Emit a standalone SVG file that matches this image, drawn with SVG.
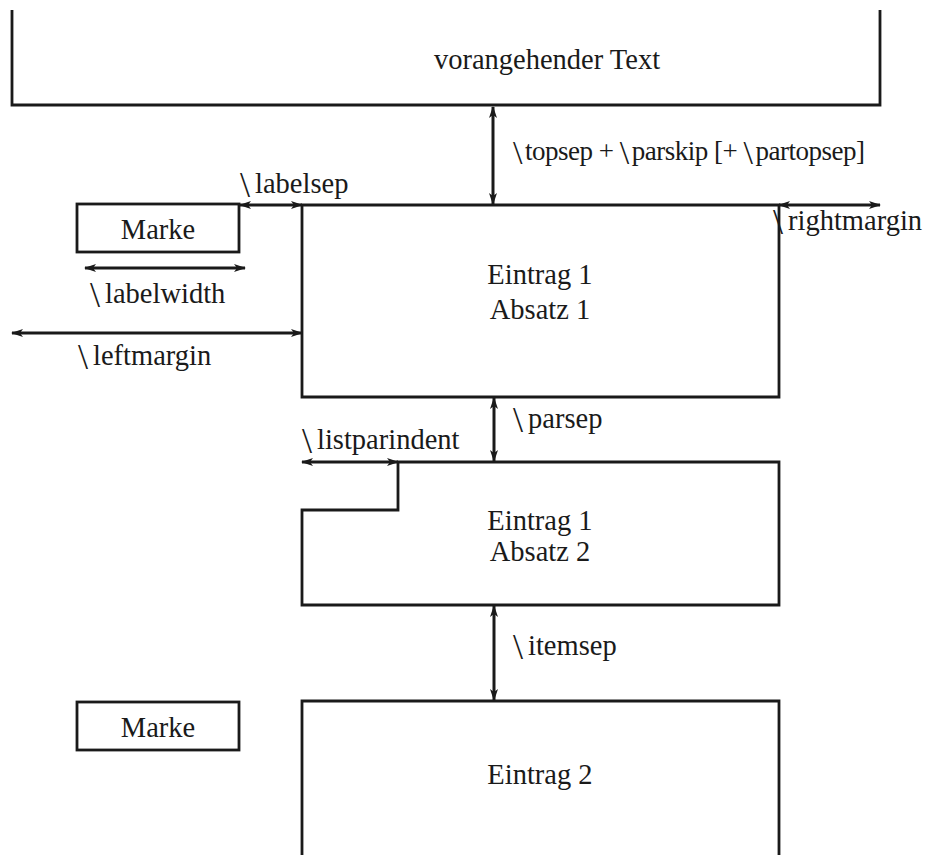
<svg xmlns="http://www.w3.org/2000/svg" width="927" height="858" viewBox="0 0 927 858">
<style>
.box{fill:none;stroke:#1a1a1a;stroke-width:2.8}
.arr{fill:none;stroke:#1a1a1a;stroke-width:3;marker-start:url(#ah);marker-end:url(#ah)}
text{font-family:"Liberation Serif","Times New Roman",serif;font-size:28.5px;fill:#1a1a1a}
.c{text-anchor:middle}
.bs{font-size:36px}
.sm{font-size:27px}
.sm .bs{font-size:34px}
</style>
<defs>
<marker id="ah" viewBox="0 0 12 8" refX="11" refY="4" markerWidth="12" markerHeight="8" markerUnits="userSpaceOnUse" orient="auto-start-reverse">
<path d="M0,0 L12,4 L0,8 L3,4 Z" fill="#1a1a1a"/>
</marker>
</defs>
<rect width="927" height="858" fill="#fff"/>
<g id="prev">
<path class="box" d="M12,10 V105 H880 V10"/>
<text class="c" x="547" y="69">vorangehender Text</text>
</g>
<g id="item1">
<path class="box" d="M302,205 H779 V397 H302 Z"/>
<text class="c" x="540" y="284">Eintrag 1</text>
<text class="c" x="540" y="319">Absatz 1</text>
</g>
<g id="label1">
<rect class="box" x="77" y="204" width="162" height="48"/>
<text class="c" x="158" y="239">Marke</text>
</g>
<g id="item1b">
<path class="box" d="M398,462 H779 V605 H302 V510 H398 Z"/>
<text class="c" x="540" y="530">Eintrag 1</text>
<text class="c" x="540" y="561">Absatz 2</text>
</g>
<g id="item2">
<path class="box" d="M302,855 V701 H779 V855"/>
<text class="c" x="540" y="784">Eintrag 2</text>
</g>
<g id="label2">
<rect class="box" x="77" y="702" width="162" height="48"/>
<text class="c" x="158" y="737">Marke</text>
</g>
<g id="connectors">
<line class="arr" x1="493" y1="107" x2="493" y2="204"/>
<line class="arr" x1="240" y1="205" x2="302" y2="205"/>
<line class="arr" x1="779" y1="205" x2="880" y2="205"/>
<line class="arr" x1="85" y1="268" x2="245" y2="268"/>
<line class="arr" x1="12" y1="333" x2="302" y2="333"/>
<line class="arr" x1="494" y1="398" x2="494" y2="461"/>
<line class="arr" x1="302" y1="462" x2="398" y2="462"/>
<line class="arr" x1="494" y1="606" x2="494" y2="700"/>
</g>
<g id="labels">
<text class="sm" x="513" y="160" textLength="352" lengthAdjust="spacing"><tspan class="bs" dy="4">\</tspan><tspan dx="3" dy="-4">topsep + </tspan><tspan class="bs" dy="4">\</tspan><tspan dx="3" dy="-4">parskip [+ </tspan><tspan class="bs" dy="4">\</tspan><tspan dx="3" dy="-4">partopsep]</tspan></text>
<text x="240" y="193"><tspan class="bs" dy="4">\</tspan><tspan dx="5" dy="-4">labelsep</tspan></text>
<text x="773" y="230"><tspan class="bs" dy="4">\</tspan><tspan dx="5" dy="-4">rightmargin</tspan></text>
<text x="90" y="303"><tspan class="bs" dy="4">\</tspan><tspan dx="5" dy="-4">labelwidth</tspan></text>
<text x="78" y="365"><tspan class="bs" dy="4">\</tspan><tspan dx="5" dy="-4">leftmargin</tspan></text>
<text x="513" y="428"><tspan class="bs" dy="4">\</tspan><tspan dx="5" dy="-4">parsep</tspan></text>
<text x="302" y="449"><tspan class="bs" dy="4">\</tspan><tspan dx="5" dy="-4">listparindent</tspan></text>
<text x="513" y="655"><tspan class="bs" dy="4">\</tspan><tspan dx="5" dy="-4">itemsep</tspan></text>
</g>
</svg>
